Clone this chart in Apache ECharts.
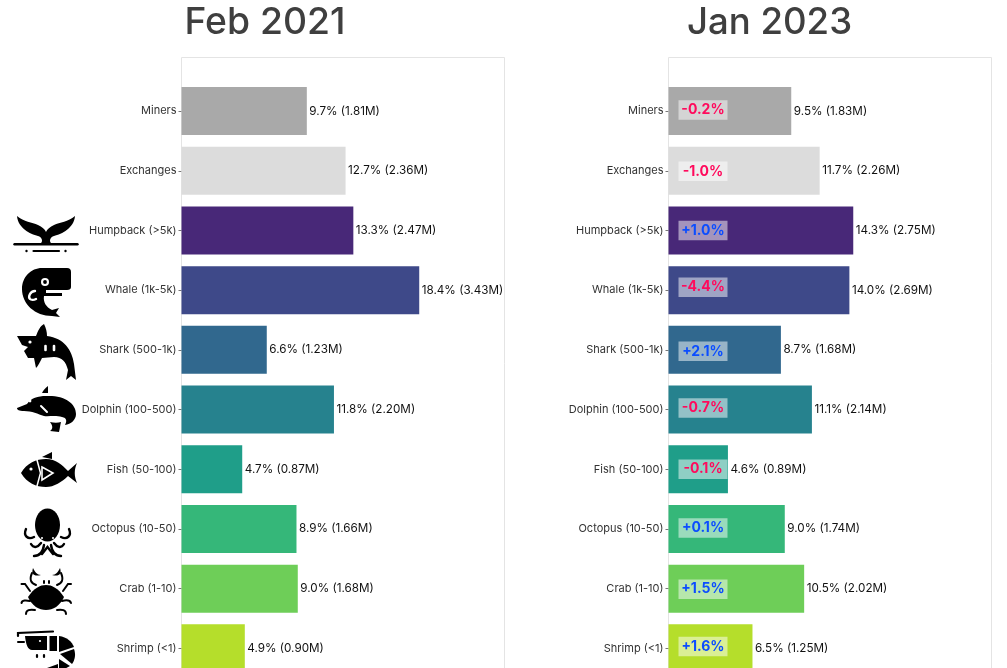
<!DOCTYPE html>
<html><head><meta charset="utf-8">
<style>html,body{margin:0;padding:0;background:#fff}#c{width:1007px;height:668px}</style>
<script src="https://cdn.jsdelivr.net/npm/echarts@6/dist/echarts.min.js"></script>
</head><body><div id="c"></div>
<script>
const categories=['Miners','Exchanges','Humpback (>5k)','Whale (1k-5k)','Shark (500-1k)','Dolphin (100-500)','Fish (50-100)','Octopus (10-50)','Crab (1-10)','Shrimp (<1)'];
const colors=['#a9a9a9','#dcdcdc','#482878','#3e4989','#31688e','#26828e','#1f9e89','#35b779','#6ece58','#b5de2b'];
const pct2021=[9.7,12.7,13.3,18.4,6.6,11.8,4.7,8.9,9.0,4.9];
const count2021=['1.81M','2.36M','2.47M','3.43M','1.23M','2.20M','0.87M','1.66M','1.68M','0.90M'];
const pct2023=[9.5,11.7,14.3,14.0,8.7,11.1,4.6,9.0,10.5,6.5];
const count2023=['1.83M','2.26M','2.75M','2.69M','1.68M','2.14M','0.89M','1.74M','2.02M','1.25M'];
const change=['-0.2%','-1.0%','+1.0%','-4.4%','+2.1%','-0.7%','-0.1%','+0.1%','+1.5%','+1.6%'];
const titles=['Feb 2021','Jan 2023'];

// the reference's delta tags sit slightly off the bar centres
const tagNudge=[-1,0.6,0,-3,1.5,-1.5,0,-1,0.5,-1.8];
const F='Inter, sans-serif';
const blk='#000';
let shapeNo=0;
function svg(d,style){const name='ic'+(shapeNo++);echarts.graphic.registerShape(name,echarts.graphic.extendPath(d));return {type:name,style:style,silent:true};}
function fill(d){return svg(d,{fill:blk});}
function line(d,w,c){return svg(d,{fill:'none',stroke:c||blk,lineWidth:w||2.4,lineCap:'round'});}
function dot(x,y,r,c){return {type:'circle',shape:{cx:x,cy:y,r:r},style:{fill:c||'#fff'},silent:true};}
const icons=[
 // humpback
 fill('M17 216C24 222 32 222 38 225C42 227 45 229 46 232C47 229 50 227 54 225C60 222 68 222 75 216C74 228 62 234 54 236C50 237 49 241 51 243L41 243C43 241 42 237 38 236C30 234 18 228 17 216Z'),
 line('M14.5 244.2L77.5 244.2',2.4), line('M33.5 251L59 251',2.2), dot(26.5,251,1.2,blk), dot(65.5,251,1.2,blk),
 // whale
 fill('M42 268L67 268Q71 268 71 272L71 287Q71 290 67 290L46 290L46 293L62 293L62 296L44 296C43 302 46 307 52 310L59 308L56 313L60 317L52 316C35 316 22 304 22 289C22 277 31 268 42 268Z'),
 dot(45,282,4), dot(45,282,1.9,blk), line('M35 291C30 291 28 297 30 299C31 300 34 300 36 299',2.4,'#fff'),
 // shark
 fill('M17 336L36 336C38 331 40 326 44 324C46 328 47 332 47 336C64 338 72 350 74 364L76 380L71 376L66 380L68 370C66 362 62 357 54 357L42 358C40 362 38 366 36 368L34 358L28 358L24 351L28 347L22 345Z'),
 dot(30,342,1.6), line('M45.5 346L45.5 350',2.6,'#fff'), line('M54 346L54 350',2.6,'#fff'),
 // dolphin
 fill('M17 408L27 404C31 398 38 396 46 396C64 395 76 403 76 414C76 420 71 424 65 425C67 421 67 418 62 417C55 415 48 417 44 416C38 414 32 411 24 411C19 411 17 410 17 408Z'),
 fill('M50 422C54 423 58 423 61 422C60 426 60 428 59 432L50 431C53 429 53 426 50 422Z'),
 fill('M42 393C43 391 45 388 48 386L48 393Z'), dot(30,401,1.4), line('M41 406L47 412',2,'#fff'),
 // fish
 fill('M21 473C27 463 36 459 46 459C56 459 62 465 68 471L77 463C74 470 74 476 77 483L68 476C62 482 54 487 46 487C36 487 27 483 21 473Z'),
 fill('M42 457L52 452L52 459Z'), dot(31,469,1.6),
 line('M37 460L40.5 473L37 486',1.5,'#fff'), line('M42 467L53 473L42 480Z',1.6,'#fff'),
 // octopus
 {type:'ellipse',shape:{cx:47.5,cy:525,rx:12.5,ry:16.5},style:{fill:blk},silent:true},
 dot(42,538,1,'#fff'), dot(53,538,1,'#fff'),
 line('M26 529C23 536 28 540 34 537'), line('M69 529C72 536 67 540 61 537'),
 line('M31 544C34 549 38 547 41 543'), line('M64 544C61 549 57 547 54 543'),
 line('M34 556C40 556 43 552 44 545'), line('M61 556C55 556 52 552 51 545'),
 line('M42 554L47.5 547L53 554'),
 // crab
 fill('M28 597C34 588 40 585 46 585C52 585 58 588 64 597C60 606 53 610 46 610C39 610 32 606 28 597Z'),
 fill('M33 568C31 574 34 577 41 575C37 575 35 572 33 568Z'), fill('M60 568C62 574 59 577 52 575C56 575 58 572 60 568Z'),
 line('M32 573C29 580 31 583 36 585',2), line('M61 573C64 580 62 583 57 585',2),
 line('M44 581L44 583',2), line('M49 581L49 583',2),
 line('M21.5 584L25 584L30 591',2), line('M71 584L68 584L63 591',2),
 line('M21.5 603C22 600 26 600 30 601',2), line('M71 603C70 600 66 600 62 601',2),
 line('M26 614C26 610 30 609 35 610',2), line('M66 614C66 610 62 609 57 610',2),
 // shrimp
 line('M18 636L18 633L53 631.5',2.2), line('M18 642L24 642',2),
 fill('M25 636L47 636L47 650L32 650C28 650 26 645 25 636Z'), fill('M49.5 636L57 636L57 651L49.5 651Z'),
 fill('M59 636C67 637 72 642 74 647L59 652Z'), fill('M60 654L74 649C76 654 75 660 72 664Z'),
 fill('M59 659L70 666L59 672Z'), fill('M47 668L58 664L58 672Z'),
 dot(40,641,1.1), line('M37 655L37 657',2.2), line('M44 655L44 657',2.2)
];
function frame(x){return {type:'rect',shape:{x:x,y:57.5,width:323,height:700},style:{fill:'none',stroke:'#e4e4e4',lineWidth:1},silent:true,z:0};}
const panels=[{left:181.5,pct:pct2021,cnt:count2021},{left:668.5,pct:pct2023,cnt:count2023}];
const series=[];
panels.forEach((p,i)=>{
  series.push({type:'bar',xAxisIndex:i,yAxisIndex:i,barWidth:48,barGap:'-100%',silent:true,
    data:p.pct.map((v,k)=>({value:v,itemStyle:{color:colors[k]},
      label:{formatter:v.toFixed(1)+'% ('+p.cnt[k]+')'}})),
    label:{show:true,position:'right',distance:2.5,fontFamily:F,fontSize:11.7,color:'#111'}});
});
series.push({type:'bar',xAxisIndex:1,yAxisIndex:1,barWidth:48,barGap:'-100%',silent:true,z:3,
  itemStyle:{color:'transparent'},
  data:pct2023.map((v,k)=>({value:v,label:{formatter:change[k],offset:[0,tagNudge[k]],color:change[k][0]==='+'?'#0b4dff':'#ff0a5c'}})),
  label:{show:true,position:'insideLeft',distance:34.5,align:'center',width:49,height:19.5,lineHeight:19.5,
    fontFamily:F,fontSize:14,fontWeight:700,backgroundColor:'rgba(255,255,255,0.5)'}});
const chart=echarts.init(document.getElementById('c'),null,{renderer:'canvas',width:1007,height:668});
const titleStyle=s=>({fontFamily:F,fontSize:s,fontWeight:500,color:'#3f3f3f'});
chart.setOption({
  animation:false,backgroundColor:'#fff',
  title:[{text:titles[0],left:265,top:4,padding:0,textAlign:'center',textStyle:titleStyle(37.3)},
         {text:titles[1],left:769.5,top:4,padding:0,textAlign:'center',textStyle:titleStyle(36.6)}],
  grid:panels.map(p=>({left:p.left,top:81.2,width:323,height:597,outerBoundsMode:'none'})),
  xAxis:panels.map((p,i)=>({gridIndex:i,type:'value',min:0,max:25,show:false})),
  yAxis:panels.map((p,i)=>({gridIndex:i,type:'category',inverse:true,data:categories,
    axisLine:{show:false},axisTick:{show:true,alignWithLabel:true,length:3,lineStyle:{color:'#777'}},
    axisLabel:{fontFamily:F,fontSize:11,color:'#333',margin:5,padding:[2,0,0,0]}})),
  series:series,
  graphic:[frame(181.5),frame(668.5)].concat(icons)
});
</script></body></html>
